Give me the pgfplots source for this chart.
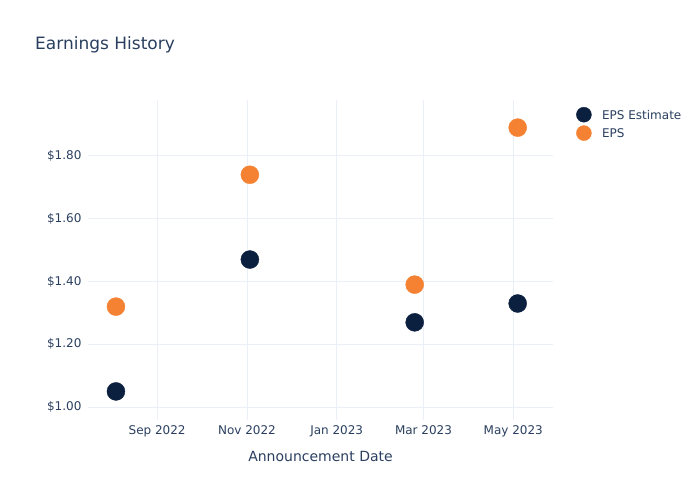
\documentclass[border=0pt]{standalone}
\usepackage{pgfplots}
\pgfplotsset{compat=1.18}
\usepackage{fontspec}
\setmainfont{DejaVu Sans}
\definecolor{txt}{HTML}{2A3F5F}
\definecolor{navy}{HTML}{0B1F3F}
\definecolor{orng}{HTML}{F58232}
\definecolor{grd}{HTML}{EBF0F8}
\begin{document}
\begin{tikzpicture}[x=1pt,y=1pt]
\useasboundingbox (0,0) rectangle (700,500);
\node[anchor=base west, text=txt, font=\fontsize{17}{20}\selectfont, inner sep=0pt] at (35,450) {Earnings History};
\begin{axis}[
  at={(88pt,80pt)}, anchor=south west,
  scale only axis, width=465pt, height=320pt,
  xmin=-47, xmax=269, ymin=0.959, ymax=1.978,
  xtick={0,61,122,181,242},
  xticklabels={Sep 2022,Nov 2022,Jan 2023,Mar 2023,May 2023},
  ytick={1.0,1.2,1.4,1.6,1.8},
  yticklabels={\$1.00,\$1.20,\$1.40,\$1.60,\$1.80},
  grid=major, major grid style={grd, line width=0.8pt},
  axis line style={draw=none}, tick style={draw=none},
  ticklabel style={text=txt, font=\fontsize{12}{14}\selectfont},
  xticklabel style={yshift=-2pt},
  yticklabel style={xshift=-3pt},
  xlabel={Announcement Date},
  xlabel style={text=txt, font=\fontsize{14}{16}\selectfont, yshift=-7pt},
  clip=false,
  legend image code/.code={\fill[#1] (0pt,0pt) circle (7.5pt); \path (16pt,0pt);},
  legend style={at={(1.043,0.985)}, anchor=north west, draw=none, fill=none,
    font=\fontsize{12}{14}\selectfont, text=txt, row sep=3pt,
    nodes={inner sep=2pt, text depth=0pt}},
  legend cell align=left,
]
\addplot[only marks, color=navy, mark=*, mark size=9pt, mark options={draw=navy, fill=navy}]
  coordinates {(-28,1.05) (63,1.47) (175,1.27) (245,1.33)};
\addlegendentry{EPS Estimate}
\addplot[only marks, color=orng, mark=*, mark size=9pt, mark options={draw=orng, fill=orng}]
  coordinates {(-28,1.32) (63,1.74) (175,1.39) (245,1.89)};
\addlegendentry{EPS}
\end{axis}
\end{tikzpicture}
\end{document}
